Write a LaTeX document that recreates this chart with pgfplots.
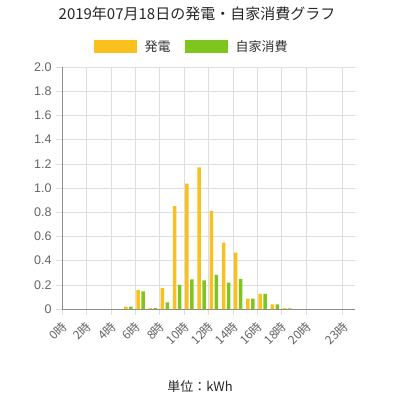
\documentclass[border=0pt]{standalone}
\usepackage{pgfplots}
\pgfplotsset{compat=1.18}
\usepackage{fontspec}
\setmainfont{Noto Sans CJK JP}
\newfontfamily\latin{Liberation Sans}
\definecolor{orng}{RGB}{250,192,30}
\definecolor{grn}{RGB}{126,198,30}
\definecolor{gridc}{RGB}{222,222,222}
\definecolor{axc}{RGB}{140,140,140}
\definecolor{tickc}{RGB}{100,100,100}
\begin{document}
\begin{tikzpicture}[x=1pt,y=1pt]
\path[use as bounding box] (0,0) rectangle (394,400);
\begin{axis}[
  at={(62pt,91pt)}, anchor=south west,
  width=293pt, height=242pt, scale only axis,
  xmin=0, xmax=24, ymin=0, ymax=2,
  axis x line*=bottom, axis y line*=left,
  axis line style={axc, line width=0.8pt},
  xtick={0,2,4,6,8,10,12,14,16,18,20,23},
  xticklabels={0時,2時,4時,6時,8時,10時,12時,14時,16時,18時,20時,23時},
  ytick={0,0.2,0.4,0.6,0.8,1.0,1.2,1.4,1.6,1.8,2.0},
  yticklabels={0,0.2,0.4,0.6,0.8,1.0,1.2,1.4,1.6,1.8,2.0},
  grid=major, major grid style={gridc, line width=0.6pt},
  tick align=outside, major tick length=6pt,
  major tick style={gridc, line width=0.6pt},
  yticklabel style={font=\latin\fontsize{12.5}{12.5}\selectfont, text=tickc, xshift=-1pt},
  xticklabel style={font=\fontsize{12}{12}\selectfont, text=tickc, xshift=5pt, yshift=-7pt, rotate=45, anchor=east},
  legend columns=2,
  legend style={at={(axis description cs:0.442,1.083)}, anchor=center, draw=none, fill=none,
    font=\fontsize{13}{13}\selectfont, text=black!80,
    /tikz/every even column/.append style={column sep=12pt}},
  legend image code/.code={\fill[#1] (0pt,-6.5pt) rectangle (43pt,6.5pt); \path (43pt,0pt) -- (49pt,0pt);},
]
\addplot[ybar, bar width=3.5pt, bar shift=2.8pt, fill=orng, draw=none] coordinates {
 (5,0.02) (6,0.155) (7,0.008) (8,0.174) (9,0.851) (10,1.036) (11,1.171) (12,0.81)
 (13,0.548) (14,0.465) (15,0.085) (16,0.126) (17,0.039) (18,0.007)};
\addlegendentry{発電}
\addplot[ybar, bar width=3.5pt, bar shift=7.8pt, fill=grn, draw=none] coordinates {
 (5,0.02) (6,0.146) (7,0.008) (8,0.055) (9,0.2) (10,0.245) (11,0.237) (12,0.281)
 (13,0.217) (14,0.248) (15,0.085) (16,0.126) (17,0.039) (18,0.005)};
\addlegendentry{自家消費}
\end{axis}
\node[font=\fontsize{15}{15}\selectfont, text=black!85] at (197,386) {2019年07月18日の発電・自家消費グラフ};
\node[font=\fontsize{13}{13}\selectfont, text=black!85] at (200,13) {単位：kWh};
\end{tikzpicture}
\end{document}
